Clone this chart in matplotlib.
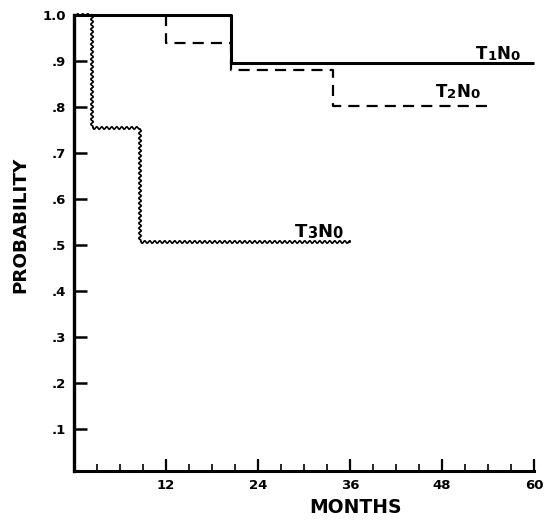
import matplotlib
matplotlib.use("Agg")
import matplotlib.pyplot as plt
from matplotlib.ticker import FixedLocator, MultipleLocator

plt.rcParams['font.family'] = ['DejaVu Sans']
plt.rcParams['font.weight'] = 'bold'

# step curves (months, probability)
t1_months = [0, 20.5, 60]
t1_prob = [1.0, 0.896, 0.896]

t2_months = [12, 12, 20.5, 33.8, 54.3]
t2_prob = [1.0, 0.939, 0.88, 0.802, 0.802]

t3_months = [0, 2.3, 8.6, 36]
t3_prob = [1.0, 0.754, 0.507, 0.507]

xticks = [12, 24, 36, 48, 60]
yticks = [0.1, 0.2, 0.3, 0.4, 0.5, 0.6, 0.7, 0.8, 0.9, 1.0]
ytick_labels = ['.1', '.2', '.3', '.4', '.5', '.6', '.7', '.8', '.9', '1.0']

fig = plt.figure(figsize=(5.54, 5.24), dpi=100)
ax = fig.add_axes([0.1336, 0.1011, 0.8303, 0.8703])

ax.step(t1_months, t1_prob, where='post', color='black', lw=2.2,
        clip_on=False, solid_capstyle='butt')
dl, = ax.step(t2_months, t2_prob, where='post', color='black', lw=1.6,
              clip_on=False)
dl.set_dashes((5.0, 3.2))
wl, = ax.step(t3_months, t3_prob, where='post', color='black', lw=1.2,
              clip_on=False)
wl.set_sketch_params(scale=1.3, length=5, randomness=1)


def label(x, y, parts, big=12, small=9.5):
    # big letters with small digits, baseline aligned
    prev = ax.text(x, y, parts[0], fontsize=big, fontweight='bold',
                   va='baseline', ha='left')
    for i, p in enumerate(parts[1:]):
        size = small if i % 2 == 0 else big
        prev = ax.annotate(p, xy=(1, 0), xycoords=prev, fontsize=size,
                           fontweight='bold', va='bottom', ha='left')


label(52.4, 0.904, ['T', '1', 'N', '0'])
label(47.2, 0.822, ['T', '2', 'N', '0'])
label(28.8, 0.517, ['T', '3', 'N', '0'], big=13, small=10.5)

ax.set_xlim(0, 60)
ax.set_ylim(0.009, 1.0)

ax.xaxis.set_major_locator(FixedLocator(xticks))
ax.xaxis.set_minor_locator(MultipleLocator(3))
ax.set_yticks(yticks)
ax.set_yticklabels(ytick_labels)

ax.tick_params(axis='x', which='major', direction='in', length=9, width=1.6,
               pad=6, labelsize=9.5)
ax.tick_params(axis='x', which='minor', direction='in', length=5, width=1.2)
ax.tick_params(axis='y', which='major', direction='in', length=9, width=1.8,
               pad=6, labelsize=9.5)

for lab in ax.get_xticklabels() + ax.get_yticklabels():
    lab.set_fontweight('bold')

for s in ['top', 'right']:
    ax.spines[s].set_visible(False)
ax.spines['left'].set_linewidth(2.4)
ax.spines['bottom'].set_linewidth(2.2)

ax.set_xlabel('MONTHS', fontsize=13.5, fontweight='bold')
ax.xaxis.set_label_coords(0.611, -0.081)
ax.set_ylabel('PROBABILITY', fontsize=13.2, fontweight='bold')
ax.yaxis.set_label_coords(-0.117, 0.539)
ax.yaxis.label.set_va('center')
ax.xaxis.label.set_va('center')

plt.savefig("out.png", dpi=100)
